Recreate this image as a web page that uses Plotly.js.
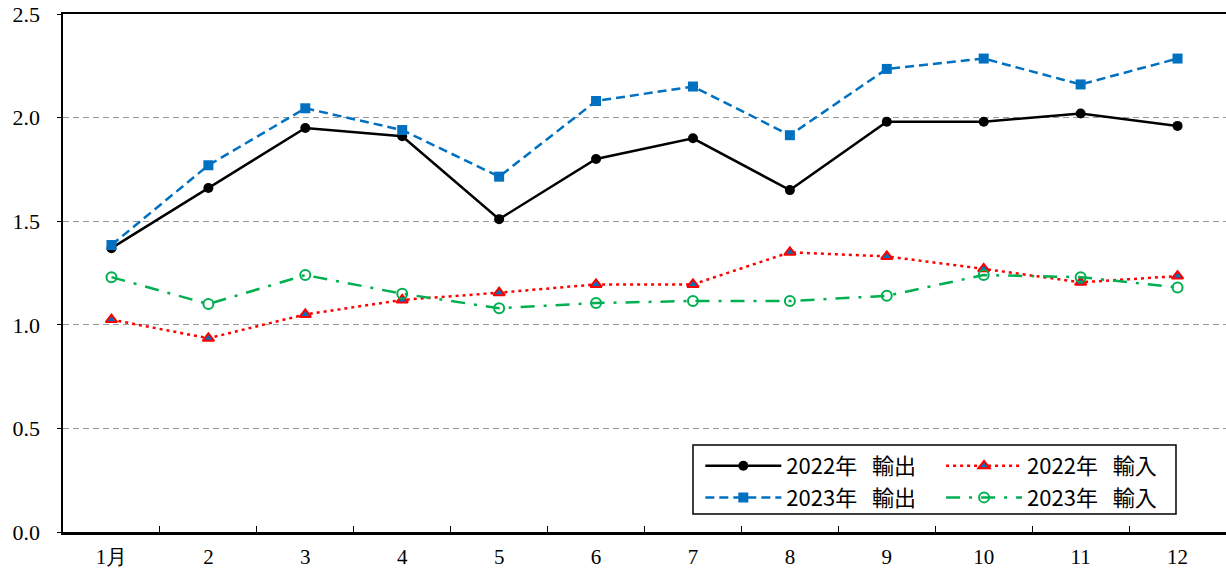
<!DOCTYPE html>
<html>
<head>
<meta charset="utf-8">
<script src="https://cdn.plot.ly/plotly-3.0.1.min.js"></script>
<style>html,body{margin:0;padding:0;background:#fff;}#chart{width:1226px;height:570px;}</style>
</head>
<body>
<div id="chart"></div>
<script>
const months = ["1月","2","3","4","5","6","7","8","9","10","11","12"];
const export2022 = [1.37,1.66,1.95,1.91,1.51,1.80,1.90,1.65,1.98,1.98,2.02,1.96];
const export2023 = [1.385,1.77,2.045,1.94,1.715,2.08,2.15,1.915,2.235,2.285,2.16,2.285];
const import2022 = [1.025,0.935,1.05,1.12,1.155,1.195,1.195,1.35,1.33,1.27,1.205,1.235];
const import2023 = [1.23,1.10,1.24,1.15,1.08,1.105,1.115,1.115,1.14,1.24,1.23,1.18];
const yTicks = [0,0.5,1.0,1.5,2.0,2.5];
const yTickText = ["0.0","0.5","1.0","1.5","2.0","2.5"];

const traces = [
  {x: months, y: export2022, name: "2022年\u00a0\u00a0\u00a0輸出", type: "scatter", mode: "lines+markers",
   line: {color: "#000000", width: 2.5}, marker: {symbol: "circle", size: 10, color: "#000000"}, legend: "legend"},
  {x: months, y: export2023, name: "2023年\u00a0\u00a0\u00a0輸出", type: "scatter", mode: "lines+markers",
   line: {color: "#0070C0", width: 2.5, dash: "9px,5px"}, marker: {symbol: "square", size: 10, color: "#0070C0"}, legend: "legend"},
  {x: months, y: import2022, name: "2022年\u00a0\u00a0\u00a0輸入", type: "scatter", mode: "lines+markers",
   line: {color: "#FF0000", width: 2.5, dash: "3px,4px"}, marker: {symbol: "triangle-up", size: 10, color: "#0070C0", line: {color: "#FF0000", width: 2}}, legend: "legend2"},
  {x: months, y: import2023, name: "2023年\u00a0\u00a0\u00a0輸入", type: "scatter", mode: "lines+markers",
   line: {color: "#00B050", width: 2.5, dash: "14px,9px,3px,9px"}, marker: {symbol: "circle-open", size: 10, color: "#00B050", line: {width: 2}}, legend: "legend2"}
];

const legendFont = {family: "Noto Sans CJK JP", size: 22, color: "#000"};
const layout = {
  width: 1226, height: 570,
  margin: {l: 63, r: 0, t: 14, b: 38},
  paper_bgcolor: "#fff", plot_bgcolor: "#fff",
  showlegend: true,
  font: {family: "Liberation Serif", size: 21, color: "#000"},
  xaxis: {
    type: "category", range: [-0.5, 11.5], autorange: false, tickson: "boundaries", ticks: "inside", ticklen: 6, tickwidth: 1, tickcolor: "#000",
    showline: true, linecolor: "#000", linewidth: 2.5, mirror: true, showgrid: false, zeroline: false,
    ticklabelstandoff: 4,
    tickfont: {family: "Liberation Serif", size: 21, color: "#000"}, automargin: false
  },
  yaxis: {
    range: [0, 2.5], autorange: false, tickvals: yTicks, ticktext: yTickText, ticks: "outside", ticklen: 4, tickcolor: "#000",
    showline: true, linecolor: "#000", linewidth: 2.5, showgrid: true, gridcolor: "#999", griddash: "6px,4px", gridwidth: 1,
    ticklabelstandoff: 12,
    zeroline: false, tickfont: {family: "Liberation Serif", size: 22, color: "#000"}, automargin: false
  },
  legend: {x: 0.548, y: 0.168, xanchor: "left", yanchor: "top", bgcolor: "rgba(0,0,0,0)", borderwidth: 0,
    font: legendFont, itemwidth: 76, tracegroupgap: 0, traceorder: "normal"},
  legend2: {x: 0.755, y: 0.168, xanchor: "left", yanchor: "top", bgcolor: "rgba(0,0,0,0)", borderwidth: 0,
    font: legendFont, itemwidth: 76, tracegroupgap: 0, traceorder: "normal"},
  shapes: [
    {type: "rect", xref: "paper", yref: "paper", x0: 0.5417, x1: 0.957, y0: 0.0347, y1: 0.168,
     line: {color: "#000", width: 1.5}, fillcolor: "rgba(255,255,255,1)", layer: "below"}
  ]
};
Plotly.newPlot("chart", traces, layout, {displayModeBar: false, staticPlot: true});
</script>
</body>
</html>
